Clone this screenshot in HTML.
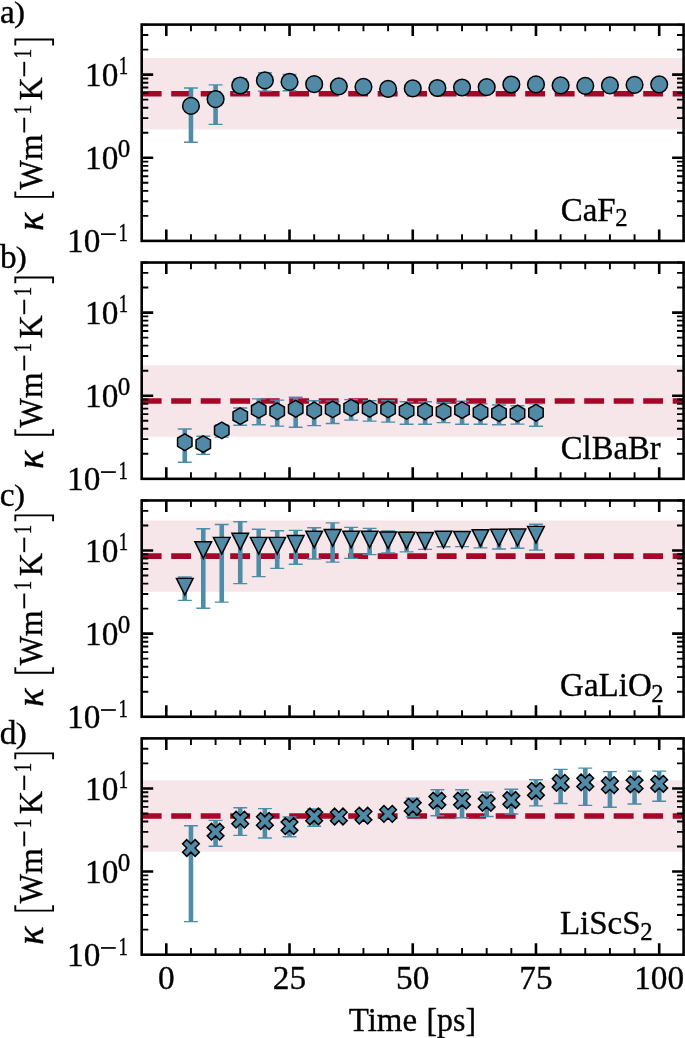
<!DOCTYPE html>
<html lang="en">
<head>
<meta charset="utf-8">
<title>Thermal conductivity convergence</title>
<style>
html,body{margin:0;padding:0;background:#fff;}
body{width:685px;height:1038px;overflow:hidden;font-family:"Liberation Serif",serif;}
svg{display:block;will-change:transform;}
text{stroke:#000;stroke-width:0.35px;}
</style>
</head>
<body>
<svg width="685" height="1038" viewBox="0 0 685 1038" font-family="'Liberation Serif', serif" font-size="33.33" fill="#000">
<g><rect x="141.7" y="58" width="541.9" height="71.4" fill="#f6e6ea"/>
<line x1="141.7" y1="93.7" x2="683.6" y2="93.7" stroke="#a60628" stroke-width="5.56" stroke-dasharray="19.9 9.6"/>
<g stroke="#4e8da8" fill="none"><path d="M190.95 88V142.2" stroke-width="4.6"/><path d="M184 88h13.9M184 142.2h13.9" stroke-width="1.39"/><path d="M215.59 84.9V124.4" stroke-width="4.6"/><path d="M208.64 84.9h13.9M208.64 124.4h13.9" stroke-width="1.39"/><path d="M240.24 79V93.3" stroke-width="4.6"/><path d="M233.29 79h13.9M233.29 93.3h13.9" stroke-width="1.39"/><path d="M264.88 72.7V91.1" stroke-width="4.6"/><path d="M257.93 72.7h13.9M257.93 91.1h13.9" stroke-width="1.39"/><path d="M289.53 74.5V90.7" stroke-width="4.6"/><path d="M282.58 74.5h13.9M282.58 90.7h13.9" stroke-width="1.39"/></g>
<circle cx="190.95" cy="105.9" r="8.34" fill="#508aa6" stroke="#000" stroke-width="1.49"/>
<circle cx="215.59" cy="99.2" r="8.34" fill="#508aa6" stroke="#000" stroke-width="1.49"/>
<circle cx="240.24" cy="85.5" r="8.34" fill="#508aa6" stroke="#000" stroke-width="1.49"/>
<circle cx="264.88" cy="80.4" r="8.34" fill="#508aa6" stroke="#000" stroke-width="1.49"/>
<circle cx="289.53" cy="81.9" r="8.34" fill="#508aa6" stroke="#000" stroke-width="1.49"/>
<circle cx="314.17" cy="84.2" r="8.34" fill="#508aa6" stroke="#000" stroke-width="1.49"/>
<circle cx="338.82" cy="86.3" r="8.34" fill="#508aa6" stroke="#000" stroke-width="1.49"/>
<circle cx="363.46" cy="86.8" r="8.34" fill="#508aa6" stroke="#000" stroke-width="1.49"/>
<circle cx="388.11" cy="88.9" r="8.34" fill="#508aa6" stroke="#000" stroke-width="1.49"/>
<circle cx="412.75" cy="88.4" r="8.34" fill="#508aa6" stroke="#000" stroke-width="1.49"/>
<circle cx="437.4" cy="88" r="8.34" fill="#508aa6" stroke="#000" stroke-width="1.49"/>
<circle cx="462.04" cy="87.5" r="8.34" fill="#508aa6" stroke="#000" stroke-width="1.49"/>
<circle cx="486.69" cy="87.2" r="8.34" fill="#508aa6" stroke="#000" stroke-width="1.49"/>
<circle cx="511.33" cy="84.5" r="8.34" fill="#508aa6" stroke="#000" stroke-width="1.49"/>
<circle cx="535.98" cy="84.4" r="8.34" fill="#508aa6" stroke="#000" stroke-width="1.49"/>
<circle cx="560.62" cy="85.4" r="8.34" fill="#508aa6" stroke="#000" stroke-width="1.49"/>
<circle cx="585.27" cy="85.8" r="8.34" fill="#508aa6" stroke="#000" stroke-width="1.49"/>
<circle cx="609.91" cy="85.4" r="8.34" fill="#508aa6" stroke="#000" stroke-width="1.49"/>
<circle cx="634.56" cy="84.8" r="8.34" fill="#508aa6" stroke="#000" stroke-width="1.49"/>
<circle cx="659.2" cy="84.3" r="8.34" fill="#508aa6" stroke="#000" stroke-width="1.49"/>
<path d="M190.95 24.6v6.6M190.95 240.9v-6.6M215.59 24.6v6.6M215.59 240.9v-6.6M240.24 24.6v6.6M240.24 240.9v-6.6M264.88 24.6v6.6M264.88 240.9v-6.6M314.17 24.6v6.6M314.17 240.9v-6.6M338.82 24.6v6.6M338.82 240.9v-6.6M363.46 24.6v6.6M363.46 240.9v-6.6M388.11 24.6v6.6M388.11 240.9v-6.6M437.4 24.6v6.6M437.4 240.9v-6.6M462.04 24.6v6.6M462.04 240.9v-6.6M486.69 24.6v6.6M486.69 240.9v-6.6M511.33 24.6v6.6M511.33 240.9v-6.6M560.62 24.6v6.6M560.62 240.9v-6.6M585.27 24.6v6.6M585.27 240.9v-6.6M609.91 24.6v6.6M609.91 240.9v-6.6M634.56 24.6v6.6M634.56 240.9v-6.6M141.7 215.88h6.6M683.6 215.88h-6.6M141.7 201.24h6.6M683.6 201.24h-6.6M141.7 190.85h6.6M683.6 190.85h-6.6M141.7 182.8h6.6M683.6 182.8h-6.6M141.7 176.22h6.6M683.6 176.22h-6.6M141.7 170.65h6.6M683.6 170.65h-6.6M141.7 165.83h6.6M683.6 165.83h-6.6M141.7 161.58h6.6M683.6 161.58h-6.6M141.7 132.75h6.6M683.6 132.75h-6.6M141.7 118.11h6.6M683.6 118.11h-6.6M141.7 107.73h6.6M683.6 107.73h-6.6M141.7 99.67h6.6M683.6 99.67h-6.6M141.7 93.09h6.6M683.6 93.09h-6.6M141.7 87.52h6.6M683.6 87.52h-6.6M141.7 82.7h6.6M683.6 82.7h-6.6M141.7 78.45h6.6M683.6 78.45h-6.6M141.7 49.62h6.6M683.6 49.62h-6.6M141.7 34.99h6.6M683.6 34.99h-6.6M141.7 24.6h6.6M683.6 24.6h-6.6" stroke="#000" stroke-width="1.9" fill="none"/>
<path d="M166.3 24.6v11.5M166.3 240.9v-11.5M289.53 24.6v11.5M289.53 240.9v-11.5M412.75 24.6v11.5M412.75 240.9v-11.5M535.98 24.6v11.5M535.98 240.9v-11.5M659.2 24.6v11.5M659.2 240.9v-11.5M141.7 157.77h11.5M683.6 157.77h-11.5M141.7 74.65h11.5M683.6 74.65h-11.5" stroke="#000" stroke-width="2.6" fill="none"/>
<rect x="141.7" y="24.6" width="541.9" height="216.3" fill="none" stroke="#000" stroke-width="2.6"/>
<text x="67.0" y="252.1">10</text>
<rect x="101" y="233.3" width="14.8" height="1.7"/>
<g transform="translate(118.6 241.1) scale(0.75 1)"><text x="0" y="0" font-size="25">1</text></g>
<text x="85" y="169.47">10</text>
<text x="117.7" y="157.07" font-size="25">0</text>
<text x="85" y="86.35">10</text>
<g transform="translate(118.8 73.95) scale(0.75 1)"><text x="0" y="0" font-size="25">1</text></g>
<g transform="translate(560.7 220.9) scale(0.99 1)"><text x="0" y="0">CaF<tspan font-size="25" dx="-0.4" dy="4.7">2</tspan></text></g>
<text x="0" y="22.6">a</text>
<g transform="translate(14 21.7) scale(1 0.889)"><text x="0" y="0">)</text></g>
<g transform="translate(42.4 240.9) rotate(-90)"><g transform="translate(9.8 0.4) scale(1.16 1.12)"><text x="0" y="0" font-style="italic" stroke="#000" stroke-width="0.5">κ</text></g><path d="M49.5 -27.1H44.05V10.7H49.5" fill="none" stroke="#000" stroke-width="1.9"/><g transform="translate(51.4 0) scale(0.935 1)"><text x="0" y="0" stroke-width="0.7">W</text></g><text x="80.6" y="0" stroke-width="0.55">m</text><rect x="108.4" y="-19.1" width="14.8" height="1.9"/><g transform="translate(126.4 -11.7) scale(0.75 1)"><text x="0" y="0" font-size="25">1</text></g><g transform="translate(140.4 0) scale(0.965 1)"><text x="0" y="0" stroke-width="0.6">K</text></g><rect x="164.6" y="-19.1" width="14.5" height="1.9"/><g transform="translate(182.5 -11.7) scale(0.75 1)"><text x="0" y="0" font-size="25">1</text></g><path d="M195.5 -27.1H201.35V10.7H195.5" fill="none" stroke="#000" stroke-width="1.9"/></g></g>
<g><rect x="141.7" y="365.3" width="541.9" height="71.4" fill="#f6e6ea"/>
<line x1="141.7" y1="401" x2="683.6" y2="401" stroke="#a60628" stroke-width="5.56" stroke-dasharray="19.9 9.6"/>
<g stroke="#4e8da8" fill="none"><path d="M184.78 429V462.3" stroke-width="4.6"/><path d="M177.83 429h13.9M177.83 462.3h13.9" stroke-width="1.39"/><path d="M203.27 436.2V454.4" stroke-width="4.6"/><path d="M196.32 436.2h13.9M196.32 454.4h13.9" stroke-width="1.39"/><path d="M221.75 425V437.1" stroke-width="4.6"/><path d="M214.8 425h13.9M214.8 437.1h13.9" stroke-width="1.39"/><path d="M240.24 408V425.2" stroke-width="4.6"/><path d="M233.29 408h13.9M233.29 425.2h13.9" stroke-width="1.39"/><path d="M258.72 398.9V424.7" stroke-width="4.6"/><path d="M251.77 398.9h13.9M251.77 424.7h13.9" stroke-width="1.39"/><path d="M277.2 400.1V426.1" stroke-width="4.6"/><path d="M270.25 400.1h13.9M270.25 426.1h13.9" stroke-width="1.39"/><path d="M295.69 397.2V427.2" stroke-width="4.6"/><path d="M288.74 397.2h13.9M288.74 427.2h13.9" stroke-width="1.39"/><path d="M314.17 400.7V425.6" stroke-width="4.6"/><path d="M307.22 400.7h13.9M307.22 425.6h13.9" stroke-width="1.39"/><path d="M332.65 401.1V423.5" stroke-width="4.6"/><path d="M325.7 401.1h13.9M325.7 423.5h13.9" stroke-width="1.39"/><path d="M351.14 399.6V420.1" stroke-width="4.6"/><path d="M344.19 399.6h13.9M344.19 420.1h13.9" stroke-width="1.39"/><path d="M369.62 400.7V421.1" stroke-width="4.6"/><path d="M362.67 400.7h13.9M362.67 421.1h13.9" stroke-width="1.39"/><path d="M388.11 400.7V422.1" stroke-width="4.6"/><path d="M381.16 400.7h13.9M381.16 422.1h13.9" stroke-width="1.39"/><path d="M406.59 401.7V424.2" stroke-width="4.6"/><path d="M399.64 401.7h13.9M399.64 424.2h13.9" stroke-width="1.39"/><path d="M425.07 401.7V424.3" stroke-width="4.6"/><path d="M418.12 401.7h13.9M418.12 424.3h13.9" stroke-width="1.39"/><path d="M443.56 402.8V422.6" stroke-width="4.6"/><path d="M436.61 402.8h13.9M436.61 422.6h13.9" stroke-width="1.39"/><path d="M462.04 401.3V424.3" stroke-width="4.6"/><path d="M455.09 401.3h13.9M455.09 424.3h13.9" stroke-width="1.39"/><path d="M480.52 403.9V424.3" stroke-width="4.6"/><path d="M473.57 403.9h13.9M473.57 424.3h13.9" stroke-width="1.39"/><path d="M499.01 405V424.7" stroke-width="4.6"/><path d="M492.06 405h13.9M492.06 424.7h13.9" stroke-width="1.39"/><path d="M517.49 405.7V424.1" stroke-width="4.6"/><path d="M510.54 405.7h13.9M510.54 424.1h13.9" stroke-width="1.39"/><path d="M535.98 403.9V426.3" stroke-width="4.6"/><path d="M529.02 403.9h13.9M529.02 426.3h13.9" stroke-width="1.39"/></g>
<polygon points="184.78,433.87 177.57,438.03 177.57,446.37 184.78,450.53 192,446.37 192,438.03" fill="#508aa6" stroke="#000" stroke-width="1.49" stroke-linejoin="miter"/>
<polygon points="203.27,435.77 196.05,439.93 196.05,448.27 203.27,452.44 210.49,448.27 210.49,439.93" fill="#508aa6" stroke="#000" stroke-width="1.49" stroke-linejoin="miter"/>
<polygon points="221.75,422.06 214.53,426.23 214.53,434.57 221.75,438.73 228.97,434.57 228.97,426.23" fill="#508aa6" stroke="#000" stroke-width="1.49" stroke-linejoin="miter"/>
<polygon points="240.24,407.77 233.02,411.93 233.02,420.27 240.24,424.44 247.45,420.27 247.45,411.93" fill="#508aa6" stroke="#000" stroke-width="1.49" stroke-linejoin="miter"/>
<polygon points="258.72,401.56 251.5,405.73 251.5,414.07 258.72,418.23 265.94,414.07 265.94,405.73" fill="#508aa6" stroke="#000" stroke-width="1.49" stroke-linejoin="miter"/>
<polygon points="277.2,402.87 269.98,407.03 269.98,415.37 277.2,419.53 284.42,415.37 284.42,407.03" fill="#508aa6" stroke="#000" stroke-width="1.49" stroke-linejoin="miter"/>
<polygon points="295.69,400.47 288.47,404.63 288.47,412.97 295.69,417.13 302.9,412.97 302.9,404.63" fill="#508aa6" stroke="#000" stroke-width="1.49" stroke-linejoin="miter"/>
<polygon points="314.17,402.17 306.95,406.33 306.95,414.67 314.17,418.83 321.39,414.67 321.39,406.33" fill="#508aa6" stroke="#000" stroke-width="1.49" stroke-linejoin="miter"/>
<polygon points="332.65,401.06 325.44,405.23 325.44,413.57 332.65,417.73 339.87,413.57 339.87,405.23" fill="#508aa6" stroke="#000" stroke-width="1.49" stroke-linejoin="miter"/>
<polygon points="351.14,399.47 343.92,403.63 343.92,411.97 351.14,416.13 358.36,411.97 358.36,403.63" fill="#508aa6" stroke="#000" stroke-width="1.49" stroke-linejoin="miter"/>
<polygon points="369.62,400.47 362.4,404.63 362.4,412.97 369.62,417.13 376.84,412.97 376.84,404.63" fill="#508aa6" stroke="#000" stroke-width="1.49" stroke-linejoin="miter"/>
<polygon points="388.11,401.06 380.89,405.23 380.89,413.57 388.11,417.73 395.32,413.57 395.32,405.23" fill="#508aa6" stroke="#000" stroke-width="1.49" stroke-linejoin="miter"/>
<polygon points="406.59,402.56 399.37,406.73 399.37,415.07 406.59,419.23 413.81,415.07 413.81,406.73" fill="#508aa6" stroke="#000" stroke-width="1.49" stroke-linejoin="miter"/>
<polygon points="425.07,402.87 417.85,407.03 417.85,415.37 425.07,419.53 432.29,415.37 432.29,407.03" fill="#508aa6" stroke="#000" stroke-width="1.49" stroke-linejoin="miter"/>
<polygon points="443.56,403.27 436.34,407.43 436.34,415.77 443.56,419.94 450.77,415.77 450.77,407.43" fill="#508aa6" stroke="#000" stroke-width="1.49" stroke-linejoin="miter"/>
<polygon points="462.04,401.77 454.82,405.93 454.82,414.27 462.04,418.44 469.26,414.27 469.26,405.93" fill="#508aa6" stroke="#000" stroke-width="1.49" stroke-linejoin="miter"/>
<polygon points="480.52,403.97 473.31,408.13 473.31,416.47 480.52,420.63 487.74,416.47 487.74,408.13" fill="#508aa6" stroke="#000" stroke-width="1.49" stroke-linejoin="miter"/>
<polygon points="499.01,404.77 491.79,408.93 491.79,417.27 499.01,421.44 506.23,417.27 506.23,408.93" fill="#508aa6" stroke="#000" stroke-width="1.49" stroke-linejoin="miter"/>
<polygon points="517.49,405.06 510.27,409.23 510.27,417.57 517.49,421.73 524.71,417.57 524.71,409.23" fill="#508aa6" stroke="#000" stroke-width="1.49" stroke-linejoin="miter"/>
<polygon points="535.98,404.37 528.76,408.53 528.76,416.87 535.98,421.03 543.19,416.87 543.19,408.53" fill="#508aa6" stroke="#000" stroke-width="1.49" stroke-linejoin="miter"/>
<path d="M190.95 262.53v6.6M190.95 478.83v-6.6M215.59 262.53v6.6M215.59 478.83v-6.6M240.24 262.53v6.6M240.24 478.83v-6.6M264.88 262.53v6.6M264.88 478.83v-6.6M314.17 262.53v6.6M314.17 478.83v-6.6M338.82 262.53v6.6M338.82 478.83v-6.6M363.46 262.53v6.6M363.46 478.83v-6.6M388.11 262.53v6.6M388.11 478.83v-6.6M437.4 262.53v6.6M437.4 478.83v-6.6M462.04 262.53v6.6M462.04 478.83v-6.6M486.69 262.53v6.6M486.69 478.83v-6.6M511.33 262.53v6.6M511.33 478.83v-6.6M560.62 262.53v6.6M560.62 478.83v-6.6M585.27 262.53v6.6M585.27 478.83v-6.6M609.91 262.53v6.6M609.91 478.83v-6.6M634.56 262.53v6.6M634.56 478.83v-6.6M141.7 453.81h6.6M683.6 453.81h-6.6M141.7 439.17h6.6M683.6 439.17h-6.6M141.7 428.78h6.6M683.6 428.78h-6.6M141.7 420.73h6.6M683.6 420.73h-6.6M141.7 414.15h6.6M683.6 414.15h-6.6M141.7 408.58h6.6M683.6 408.58h-6.6M141.7 403.76h6.6M683.6 403.76h-6.6M141.7 399.51h6.6M683.6 399.51h-6.6M141.7 370.68h6.6M683.6 370.68h-6.6M141.7 356.04h6.6M683.6 356.04h-6.6M141.7 345.66h6.6M683.6 345.66h-6.6M141.7 337.6h6.6M683.6 337.6h-6.6M141.7 331.02h6.6M683.6 331.02h-6.6M141.7 325.45h6.6M683.6 325.45h-6.6M141.7 320.63h6.6M683.6 320.63h-6.6M141.7 316.38h6.6M683.6 316.38h-6.6M141.7 287.55h6.6M683.6 287.55h-6.6M141.7 272.92h6.6M683.6 272.92h-6.6M141.7 262.53h6.6M683.6 262.53h-6.6" stroke="#000" stroke-width="1.9" fill="none"/>
<path d="M166.3 262.53v11.5M166.3 478.83v-11.5M289.53 262.53v11.5M289.53 478.83v-11.5M412.75 262.53v11.5M412.75 478.83v-11.5M535.98 262.53v11.5M535.98 478.83v-11.5M659.2 262.53v11.5M659.2 478.83v-11.5M141.7 395.7h11.5M683.6 395.7h-11.5M141.7 312.58h11.5M683.6 312.58h-11.5" stroke="#000" stroke-width="2.6" fill="none"/>
<rect x="141.7" y="262.53" width="541.9" height="216.3" fill="none" stroke="#000" stroke-width="2.6"/>
<text x="67.0" y="490.03">10</text>
<rect x="101" y="471.23" width="14.8" height="1.7"/>
<g transform="translate(118.6 479.03) scale(0.75 1)"><text x="0" y="0" font-size="25">1</text></g>
<text x="85" y="407.4">10</text>
<text x="117.7" y="395" font-size="25">0</text>
<text x="85" y="324.28">10</text>
<g transform="translate(118.8 311.88) scale(0.75 1)"><text x="0" y="0" font-size="25">1</text></g>
<g transform="translate(560.8 458.53) scale(0.98 1)"><text x="0" y="0">ClBaBr<tspan font-size="25" dx="-0.4" dy="5"></tspan></text></g>
<text x="-0.1" y="268.1">b</text>
<g transform="translate(15.7 267.2) scale(1 0.889)"><text x="0" y="0">)</text></g>
<g transform="translate(42.4 478.83) rotate(-90)"><g transform="translate(9.8 0.4) scale(1.16 1.12)"><text x="0" y="0" font-style="italic" stroke="#000" stroke-width="0.5">κ</text></g><path d="M49.5 -27.1H44.05V10.7H49.5" fill="none" stroke="#000" stroke-width="1.9"/><g transform="translate(51.4 0) scale(0.935 1)"><text x="0" y="0" stroke-width="0.7">W</text></g><text x="80.6" y="0" stroke-width="0.55">m</text><rect x="108.4" y="-19.1" width="14.8" height="1.9"/><g transform="translate(126.4 -11.7) scale(0.75 1)"><text x="0" y="0" font-size="25">1</text></g><g transform="translate(140.4 0) scale(0.965 1)"><text x="0" y="0" stroke-width="0.6">K</text></g><rect x="164.6" y="-19.1" width="14.5" height="1.9"/><g transform="translate(182.5 -11.7) scale(0.75 1)"><text x="0" y="0" font-size="25">1</text></g><path d="M195.5 -27.1H201.35V10.7H195.5" fill="none" stroke="#000" stroke-width="1.9"/></g></g>
<g><rect x="141.7" y="520.4" width="541.9" height="71.4" fill="#f6e6ea"/>
<line x1="141.7" y1="556.1" x2="683.6" y2="556.1" stroke="#a60628" stroke-width="5.56" stroke-dasharray="19.9 9.6"/>
<g stroke="#4e8da8" fill="none"><path d="M184.78 577V600.4" stroke-width="4.6"/><path d="M177.83 577h13.9M177.83 600.4h13.9" stroke-width="1.39"/><path d="M203.27 528.7V608.2" stroke-width="4.6"/><path d="M196.32 528.7h13.9M196.32 608.2h13.9" stroke-width="1.39"/><path d="M221.75 524.5V602.1" stroke-width="4.6"/><path d="M214.8 524.5h13.9M214.8 602.1h13.9" stroke-width="1.39"/><path d="M240.24 521.7V583.6" stroke-width="4.6"/><path d="M233.29 521.7h13.9M233.29 583.6h13.9" stroke-width="1.39"/><path d="M258.72 529.2V576.6" stroke-width="4.6"/><path d="M251.77 529.2h13.9M251.77 576.6h13.9" stroke-width="1.39"/><path d="M277.2 530.8V568.4" stroke-width="4.6"/><path d="M270.25 530.8h13.9M270.25 568.4h13.9" stroke-width="1.39"/><path d="M295.69 530.4V564.2" stroke-width="4.6"/><path d="M288.74 530.4h13.9M288.74 564.2h13.9" stroke-width="1.39"/><path d="M314.17 527.8V559" stroke-width="4.6"/><path d="M307.22 527.8h13.9M307.22 559h13.9" stroke-width="1.39"/><path d="M332.65 522.9V562.1" stroke-width="4.6"/><path d="M325.7 522.9h13.9M325.7 562.1h13.9" stroke-width="1.39"/><path d="M351.14 527.4V558.4" stroke-width="4.6"/><path d="M344.19 527.4h13.9M344.19 558.4h13.9" stroke-width="1.39"/><path d="M369.62 528.4V554.6" stroke-width="4.6"/><path d="M362.67 528.4h13.9M362.67 554.6h13.9" stroke-width="1.39"/><path d="M388.11 531V552.9" stroke-width="4.6"/><path d="M381.16 531h13.9M381.16 552.9h13.9" stroke-width="1.39"/><path d="M406.59 532V551.9" stroke-width="4.6"/><path d="M399.64 532h13.9M399.64 551.9h13.9" stroke-width="1.39"/><path d="M425.07 533V549.4" stroke-width="4.6"/><path d="M418.12 533h13.9M418.12 549.4h13.9" stroke-width="1.39"/><path d="M443.56 533V546.8" stroke-width="4.6"/><path d="M436.61 533h13.9M436.61 546.8h13.9" stroke-width="1.39"/><path d="M462.04 533V546.6" stroke-width="4.6"/><path d="M455.09 533h13.9M455.09 546.6h13.9" stroke-width="1.39"/><path d="M480.52 531V547.9" stroke-width="4.6"/><path d="M473.57 531h13.9M473.57 547.9h13.9" stroke-width="1.39"/><path d="M499.01 530V549" stroke-width="4.6"/><path d="M492.06 530h13.9M492.06 549h13.9" stroke-width="1.39"/><path d="M517.49 530V548.3" stroke-width="4.6"/><path d="M510.54 530h13.9M510.54 548.3h13.9" stroke-width="1.39"/><path d="M535.98 524.2V550.1" stroke-width="4.6"/><path d="M529.02 524.2h13.9M529.02 550.1h13.9" stroke-width="1.39"/></g>
<polygon points="184.78,595.04 176.45,578.37 193.12,578.37" fill="#508aa6" stroke="#000" stroke-width="1.49" stroke-linejoin="miter"/>
<polygon points="203.27,558.34 194.93,541.66 211.6,541.66" fill="#508aa6" stroke="#000" stroke-width="1.49" stroke-linejoin="miter"/>
<polygon points="221.75,554.04 213.42,537.37 230.09,537.37" fill="#508aa6" stroke="#000" stroke-width="1.49" stroke-linejoin="miter"/>
<polygon points="240.24,549.84 231.9,533.16 248.57,533.16" fill="#508aa6" stroke="#000" stroke-width="1.49" stroke-linejoin="miter"/>
<polygon points="258.72,554.04 250.38,537.37 267.05,537.37" fill="#508aa6" stroke="#000" stroke-width="1.49" stroke-linejoin="miter"/>
<polygon points="277.2,554.04 268.87,537.37 285.54,537.37" fill="#508aa6" stroke="#000" stroke-width="1.49" stroke-linejoin="miter"/>
<polygon points="295.69,552.24 287.35,535.56 304.02,535.56" fill="#508aa6" stroke="#000" stroke-width="1.49" stroke-linejoin="miter"/>
<polygon points="314.17,547.84 305.84,531.16 322.5,531.16" fill="#508aa6" stroke="#000" stroke-width="1.49" stroke-linejoin="miter"/>
<polygon points="332.65,546.24 324.32,529.56 340.99,529.56" fill="#508aa6" stroke="#000" stroke-width="1.49" stroke-linejoin="miter"/>
<polygon points="351.14,547.84 342.8,531.16 359.47,531.16" fill="#508aa6" stroke="#000" stroke-width="1.49" stroke-linejoin="miter"/>
<polygon points="369.62,547.84 361.29,531.16 377.96,531.16" fill="#508aa6" stroke="#000" stroke-width="1.49" stroke-linejoin="miter"/>
<polygon points="388.11,548.63 379.77,531.96 396.44,531.96" fill="#508aa6" stroke="#000" stroke-width="1.49" stroke-linejoin="miter"/>
<polygon points="406.59,548.84 398.25,532.16 414.92,532.16" fill="#508aa6" stroke="#000" stroke-width="1.49" stroke-linejoin="miter"/>
<polygon points="425.07,549.24 416.74,532.56 433.41,532.56" fill="#508aa6" stroke="#000" stroke-width="1.49" stroke-linejoin="miter"/>
<polygon points="443.56,547.94 435.22,531.26 451.89,531.26" fill="#508aa6" stroke="#000" stroke-width="1.49" stroke-linejoin="miter"/>
<polygon points="462.04,548.13 453.71,531.46 470.38,531.46" fill="#508aa6" stroke="#000" stroke-width="1.49" stroke-linejoin="miter"/>
<polygon points="480.52,546.34 472.19,529.66 488.86,529.66" fill="#508aa6" stroke="#000" stroke-width="1.49" stroke-linejoin="miter"/>
<polygon points="499.01,545.94 490.67,529.26 507.34,529.26" fill="#508aa6" stroke="#000" stroke-width="1.49" stroke-linejoin="miter"/>
<polygon points="517.49,545.74 509.16,529.06 525.83,529.06" fill="#508aa6" stroke="#000" stroke-width="1.49" stroke-linejoin="miter"/>
<polygon points="535.98,543.04 527.64,526.37 544.31,526.37" fill="#508aa6" stroke="#000" stroke-width="1.49" stroke-linejoin="miter"/>
<path d="M190.95 500.46v6.6M190.95 716.76v-6.6M215.59 500.46v6.6M215.59 716.76v-6.6M240.24 500.46v6.6M240.24 716.76v-6.6M264.88 500.46v6.6M264.88 716.76v-6.6M314.17 500.46v6.6M314.17 716.76v-6.6M338.82 500.46v6.6M338.82 716.76v-6.6M363.46 500.46v6.6M363.46 716.76v-6.6M388.11 500.46v6.6M388.11 716.76v-6.6M437.4 500.46v6.6M437.4 716.76v-6.6M462.04 500.46v6.6M462.04 716.76v-6.6M486.69 500.46v6.6M486.69 716.76v-6.6M511.33 500.46v6.6M511.33 716.76v-6.6M560.62 500.46v6.6M560.62 716.76v-6.6M585.27 500.46v6.6M585.27 716.76v-6.6M609.91 500.46v6.6M609.91 716.76v-6.6M634.56 500.46v6.6M634.56 716.76v-6.6M141.7 691.74h6.6M683.6 691.74h-6.6M141.7 677.1h6.6M683.6 677.1h-6.6M141.7 666.71h6.6M683.6 666.71h-6.6M141.7 658.66h6.6M683.6 658.66h-6.6M141.7 652.08h6.6M683.6 652.08h-6.6M141.7 646.51h6.6M683.6 646.51h-6.6M141.7 641.69h6.6M683.6 641.69h-6.6M141.7 637.44h6.6M683.6 637.44h-6.6M141.7 608.61h6.6M683.6 608.61h-6.6M141.7 593.97h6.6M683.6 593.97h-6.6M141.7 583.59h6.6M683.6 583.59h-6.6M141.7 575.53h6.6M683.6 575.53h-6.6M141.7 568.95h6.6M683.6 568.95h-6.6M141.7 563.38h6.6M683.6 563.38h-6.6M141.7 558.56h6.6M683.6 558.56h-6.6M141.7 554.31h6.6M683.6 554.31h-6.6M141.7 525.48h6.6M683.6 525.48h-6.6M141.7 510.85h6.6M683.6 510.85h-6.6M141.7 500.46h6.6M683.6 500.46h-6.6" stroke="#000" stroke-width="1.9" fill="none"/>
<path d="M166.3 500.46v11.5M166.3 716.76v-11.5M289.53 500.46v11.5M289.53 716.76v-11.5M412.75 500.46v11.5M412.75 716.76v-11.5M535.98 500.46v11.5M535.98 716.76v-11.5M659.2 500.46v11.5M659.2 716.76v-11.5M141.7 633.63h11.5M683.6 633.63h-11.5M141.7 550.51h11.5M683.6 550.51h-11.5" stroke="#000" stroke-width="2.6" fill="none"/>
<rect x="141.7" y="500.46" width="541.9" height="216.3" fill="none" stroke="#000" stroke-width="2.6"/>
<text x="67.0" y="727.96">10</text>
<rect x="101" y="709.16" width="14.8" height="1.7"/>
<g transform="translate(118.6 716.96) scale(0.75 1)"><text x="0" y="0" font-size="25">1</text></g>
<text x="85" y="645.33">10</text>
<text x="117.7" y="632.93" font-size="25">0</text>
<text x="85" y="562.21">10</text>
<g transform="translate(118.8 549.81) scale(0.75 1)"><text x="0" y="0" font-size="25">1</text></g>
<g transform="translate(560.1 696.46) scale(0.99 1)"><text x="0" y="0">GaLiO<tspan font-size="25" dx="-0.4" dy="5.9">2</tspan></text></g>
<text x="-0.2" y="506.1">c</text>
<g transform="translate(14 505.2) scale(1 0.889)"><text x="0" y="0">)</text></g>
<g transform="translate(42.4 716.76) rotate(-90)"><g transform="translate(9.8 0.4) scale(1.16 1.12)"><text x="0" y="0" font-style="italic" stroke="#000" stroke-width="0.5">κ</text></g><path d="M49.5 -27.1H44.05V10.7H49.5" fill="none" stroke="#000" stroke-width="1.9"/><g transform="translate(51.4 0) scale(0.935 1)"><text x="0" y="0" stroke-width="0.7">W</text></g><text x="80.6" y="0" stroke-width="0.55">m</text><rect x="108.4" y="-19.1" width="14.8" height="1.9"/><g transform="translate(126.4 -11.7) scale(0.75 1)"><text x="0" y="0" font-size="25">1</text></g><g transform="translate(140.4 0) scale(0.965 1)"><text x="0" y="0" stroke-width="0.6">K</text></g><rect x="164.6" y="-19.1" width="14.5" height="1.9"/><g transform="translate(182.5 -11.7) scale(0.75 1)"><text x="0" y="0" font-size="25">1</text></g><path d="M195.5 -27.1H201.35V10.7H195.5" fill="none" stroke="#000" stroke-width="1.9"/></g></g>
<g><rect x="141.7" y="780.3" width="541.9" height="71.4" fill="#f6e6ea"/>
<line x1="141.7" y1="816" x2="683.6" y2="816" stroke="#a60628" stroke-width="5.56" stroke-dasharray="19.9 9.6"/>
<g stroke="#4e8da8" fill="none"><path d="M190.95 825.7V921.6" stroke-width="4.6"/><path d="M184 825.7h13.9M184 921.6h13.9" stroke-width="1.39"/><path d="M215.59 820.4V846.2" stroke-width="4.6"/><path d="M208.64 820.4h13.9M208.64 846.2h13.9" stroke-width="1.39"/><path d="M240.24 807.8V835.4" stroke-width="4.6"/><path d="M233.29 807.8h13.9M233.29 835.4h13.9" stroke-width="1.39"/><path d="M264.88 808.6V838" stroke-width="4.6"/><path d="M257.93 808.6h13.9M257.93 838h13.9" stroke-width="1.39"/><path d="M289.53 817V836.7" stroke-width="4.6"/><path d="M282.58 817h13.9M282.58 836.7h13.9" stroke-width="1.39"/><path d="M314.17 809V826.2" stroke-width="4.6"/><path d="M307.22 809h13.9M307.22 826.2h13.9" stroke-width="1.39"/><path d="M412.75 798.1V816.5" stroke-width="4.6"/><path d="M405.8 798.1h13.9M405.8 816.5h13.9" stroke-width="1.39"/><path d="M437.4 789.7V815.7" stroke-width="4.6"/><path d="M430.45 789.7h13.9M430.45 815.7h13.9" stroke-width="1.39"/><path d="M462.04 789.7V817.8" stroke-width="4.6"/><path d="M455.09 789.7h13.9M455.09 817.8h13.9" stroke-width="1.39"/><path d="M486.69 792.1V816.5" stroke-width="4.6"/><path d="M479.74 792.1h13.9M479.74 816.5h13.9" stroke-width="1.39"/><path d="M511.33 789.2V814" stroke-width="4.6"/><path d="M504.38 789.2h13.9M504.38 814h13.9" stroke-width="1.39"/><path d="M535.98 779.7V805.9" stroke-width="4.6"/><path d="M529.03 779.7h13.9M529.03 805.9h13.9" stroke-width="1.39"/><path d="M560.62 769.4V803.5" stroke-width="4.6"/><path d="M553.67 769.4h13.9M553.67 803.5h13.9" stroke-width="1.39"/><path d="M585.27 768.1V805.4" stroke-width="4.6"/><path d="M578.32 768.1h13.9M578.32 805.4h13.9" stroke-width="1.39"/><path d="M609.91 771.6V807.3" stroke-width="4.6"/><path d="M602.96 771.6h13.9M602.96 807.3h13.9" stroke-width="1.39"/><path d="M634.56 771.1V804" stroke-width="4.6"/><path d="M627.61 771.1h13.9M627.61 804h13.9" stroke-width="1.39"/><path d="M659.2 771.1V801.3" stroke-width="4.6"/><path d="M652.25 771.1h13.9M652.25 801.3h13.9" stroke-width="1.39"/></g>
<polygon points="186.78,839.66 190.95,843.83 195.11,839.66 199.28,843.83 195.11,848 199.28,852.17 195.11,856.34 190.95,852.17 186.78,856.34 182.61,852.17 186.78,848 182.61,843.83" fill="#508aa6" stroke="#000" stroke-width="1.49" stroke-linejoin="miter"/>
<polygon points="211.42,823.37 215.59,827.53 219.76,823.37 223.93,827.53 219.76,831.7 223.93,835.87 219.76,840.04 215.59,835.87 211.42,840.04 207.26,835.87 211.42,831.7 207.26,827.53" fill="#508aa6" stroke="#000" stroke-width="1.49" stroke-linejoin="miter"/>
<polygon points="236.07,811.26 240.24,815.43 244.4,811.26 248.57,815.43 244.4,819.6 248.57,823.77 244.4,827.94 240.24,823.77 236.07,827.94 231.9,823.77 236.07,819.6 231.9,815.43" fill="#508aa6" stroke="#000" stroke-width="1.49" stroke-linejoin="miter"/>
<polygon points="260.71,812.66 264.88,816.83 269.05,812.66 273.21,816.83 269.05,821 273.21,825.17 269.05,829.34 264.88,825.17 260.71,829.34 256.55,825.17 260.71,821 256.55,816.83" fill="#508aa6" stroke="#000" stroke-width="1.49" stroke-linejoin="miter"/>
<polygon points="285.36,817.87 289.53,822.03 293.69,817.87 297.86,822.03 293.69,826.2 297.86,830.37 293.69,834.54 289.53,830.37 285.36,834.54 281.19,830.37 285.36,826.2 281.19,822.03" fill="#508aa6" stroke="#000" stroke-width="1.49" stroke-linejoin="miter"/>
<polygon points="310,808.16 314.17,812.33 318.34,808.16 322.5,812.33 318.34,816.5 322.5,820.67 318.34,824.84 314.17,820.67 310,824.84 305.84,820.67 310,816.5 305.84,812.33" fill="#508aa6" stroke="#000" stroke-width="1.49" stroke-linejoin="miter"/>
<polygon points="334.65,808.16 338.82,812.33 342.98,808.16 347.15,812.33 342.98,816.5 347.15,820.67 342.98,824.84 338.82,820.67 334.65,824.84 330.48,820.67 334.65,816.5 330.48,812.33" fill="#508aa6" stroke="#000" stroke-width="1.49" stroke-linejoin="miter"/>
<polygon points="359.29,807.37 363.46,811.53 367.63,807.37 371.8,811.53 367.63,815.7 371.8,819.87 367.63,824.04 363.46,819.87 359.29,824.04 355.13,819.87 359.29,815.7 355.13,811.53" fill="#508aa6" stroke="#000" stroke-width="1.49" stroke-linejoin="miter"/>
<polygon points="383.94,805.56 388.11,809.73 392.27,805.56 396.44,809.73 392.27,813.9 396.44,818.07 392.27,822.24 388.11,818.07 383.94,822.24 379.77,818.07 383.94,813.9 379.77,809.73" fill="#508aa6" stroke="#000" stroke-width="1.49" stroke-linejoin="miter"/>
<polygon points="408.58,798.46 412.75,802.63 416.92,798.46 421.09,802.63 416.92,806.8 421.09,810.97 416.92,815.13 412.75,810.97 408.58,815.13 404.42,810.97 408.58,806.8 404.42,802.63" fill="#508aa6" stroke="#000" stroke-width="1.49" stroke-linejoin="miter"/>
<polygon points="433.23,792.37 437.4,796.53 441.56,792.37 445.73,796.53 441.56,800.7 445.73,804.87 441.56,809.04 437.4,804.87 433.23,809.04 429.06,804.87 433.23,800.7 429.06,796.53" fill="#508aa6" stroke="#000" stroke-width="1.49" stroke-linejoin="miter"/>
<polygon points="457.87,792.37 462.04,796.53 466.21,792.37 470.38,796.53 466.21,800.7 470.38,804.87 466.21,809.04 462.04,804.87 457.87,809.04 453.71,804.87 457.87,800.7 453.71,796.53" fill="#508aa6" stroke="#000" stroke-width="1.49" stroke-linejoin="miter"/>
<polygon points="482.52,794.46 486.69,798.63 490.85,794.46 495.02,798.63 490.85,802.8 495.02,806.97 490.85,811.13 486.69,806.97 482.52,811.13 478.35,806.97 482.52,802.8 478.35,798.63" fill="#508aa6" stroke="#000" stroke-width="1.49" stroke-linejoin="miter"/>
<polygon points="507.16,791.66 511.33,795.83 515.5,791.66 519.67,795.83 515.5,800 519.67,804.17 515.5,808.34 511.33,804.17 507.16,808.34 503,804.17 507.16,800 503,795.83" fill="#508aa6" stroke="#000" stroke-width="1.49" stroke-linejoin="miter"/>
<polygon points="531.81,782.66 535.98,786.83 540.14,782.66 544.31,786.83 540.14,791 544.31,795.17 540.14,799.34 535.98,795.17 531.81,799.34 527.64,795.17 531.81,791 527.64,786.83" fill="#508aa6" stroke="#000" stroke-width="1.49" stroke-linejoin="miter"/>
<polygon points="556.45,774.56 560.62,778.73 564.79,774.56 568.96,778.73 564.79,782.9 568.96,787.07 564.79,791.24 560.62,787.07 556.45,791.24 552.29,787.07 556.45,782.9 552.29,778.73" fill="#508aa6" stroke="#000" stroke-width="1.49" stroke-linejoin="miter"/>
<polygon points="581.1,774.06 585.27,778.23 589.43,774.06 593.6,778.23 589.43,782.4 593.6,786.57 589.43,790.74 585.27,786.57 581.1,790.74 576.93,786.57 581.1,782.4 576.93,778.23" fill="#508aa6" stroke="#000" stroke-width="1.49" stroke-linejoin="miter"/>
<polygon points="605.74,776.76 609.91,780.93 614.08,776.76 618.25,780.93 614.08,785.1 618.25,789.27 614.08,793.44 609.91,789.27 605.74,793.44 601.58,789.27 605.74,785.1 601.58,780.93" fill="#508aa6" stroke="#000" stroke-width="1.49" stroke-linejoin="miter"/>
<polygon points="630.39,775.96 634.56,780.13 638.72,775.96 642.89,780.13 638.72,784.3 642.89,788.47 638.72,792.63 634.56,788.47 630.39,792.63 626.22,788.47 630.39,784.3 626.22,780.13" fill="#508aa6" stroke="#000" stroke-width="1.49" stroke-linejoin="miter"/>
<polygon points="655.03,775.46 659.2,779.63 663.37,775.46 667.54,779.63 663.37,783.8 667.54,787.97 663.37,792.13 659.2,787.97 655.03,792.13 650.87,787.97 655.03,783.8 650.87,779.63" fill="#508aa6" stroke="#000" stroke-width="1.49" stroke-linejoin="miter"/>
<path d="M190.95 738.39v6.6M190.95 954.69v-6.6M215.59 738.39v6.6M215.59 954.69v-6.6M240.24 738.39v6.6M240.24 954.69v-6.6M264.88 738.39v6.6M264.88 954.69v-6.6M314.17 738.39v6.6M314.17 954.69v-6.6M338.82 738.39v6.6M338.82 954.69v-6.6M363.46 738.39v6.6M363.46 954.69v-6.6M388.11 738.39v6.6M388.11 954.69v-6.6M437.4 738.39v6.6M437.4 954.69v-6.6M462.04 738.39v6.6M462.04 954.69v-6.6M486.69 738.39v6.6M486.69 954.69v-6.6M511.33 738.39v6.6M511.33 954.69v-6.6M560.62 738.39v6.6M560.62 954.69v-6.6M585.27 738.39v6.6M585.27 954.69v-6.6M609.91 738.39v6.6M609.91 954.69v-6.6M634.56 738.39v6.6M634.56 954.69v-6.6M141.7 929.67h6.6M683.6 929.67h-6.6M141.7 915.03h6.6M683.6 915.03h-6.6M141.7 904.64h6.6M683.6 904.64h-6.6M141.7 896.59h6.6M683.6 896.59h-6.6M141.7 890.01h6.6M683.6 890.01h-6.6M141.7 884.44h6.6M683.6 884.44h-6.6M141.7 879.62h6.6M683.6 879.62h-6.6M141.7 875.37h6.6M683.6 875.37h-6.6M141.7 846.54h6.6M683.6 846.54h-6.6M141.7 831.9h6.6M683.6 831.9h-6.6M141.7 821.52h6.6M683.6 821.52h-6.6M141.7 813.46h6.6M683.6 813.46h-6.6M141.7 806.88h6.6M683.6 806.88h-6.6M141.7 801.31h6.6M683.6 801.31h-6.6M141.7 796.49h6.6M683.6 796.49h-6.6M141.7 792.24h6.6M683.6 792.24h-6.6M141.7 763.41h6.6M683.6 763.41h-6.6M141.7 748.78h6.6M683.6 748.78h-6.6M141.7 738.39h6.6M683.6 738.39h-6.6" stroke="#000" stroke-width="1.9" fill="none"/>
<path d="M166.3 738.39v11.5M166.3 954.69v-11.5M289.53 738.39v11.5M289.53 954.69v-11.5M412.75 738.39v11.5M412.75 954.69v-11.5M535.98 738.39v11.5M535.98 954.69v-11.5M659.2 738.39v11.5M659.2 954.69v-11.5M141.7 871.56h11.5M683.6 871.56h-11.5M141.7 788.44h11.5M683.6 788.44h-11.5" stroke="#000" stroke-width="2.6" fill="none"/>
<rect x="141.7" y="738.39" width="541.9" height="216.3" fill="none" stroke="#000" stroke-width="2.6"/>
<text x="67.0" y="965.89">10</text>
<rect x="101" y="947.09" width="14.8" height="1.7"/>
<g transform="translate(118.6 954.89) scale(0.75 1)"><text x="0" y="0" font-size="25">1</text></g>
<text x="85" y="883.26">10</text>
<text x="117.7" y="870.86" font-size="25">0</text>
<text x="85" y="800.14">10</text>
<g transform="translate(118.8 787.74) scale(0.75 1)"><text x="0" y="0" font-size="25">1</text></g>
<g transform="translate(559.9 934.39) scale(0.99 1)"><text x="0" y="0">LiScS<tspan font-size="25" dx="-0.4" dy="5.9">2</tspan></text></g>
<text x="-0.2" y="744">d</text>
<g transform="translate(15.7 743.1) scale(1 0.889)"><text x="0" y="0">)</text></g>
<g transform="translate(42.4 954.69) rotate(-90)"><g transform="translate(9.8 0.4) scale(1.16 1.12)"><text x="0" y="0" font-style="italic" stroke="#000" stroke-width="0.5">κ</text></g><path d="M49.5 -27.1H44.05V10.7H49.5" fill="none" stroke="#000" stroke-width="1.9"/><g transform="translate(51.4 0) scale(0.935 1)"><text x="0" y="0" stroke-width="0.7">W</text></g><text x="80.6" y="0" stroke-width="0.55">m</text><rect x="108.4" y="-19.1" width="14.8" height="1.9"/><g transform="translate(126.4 -11.7) scale(0.75 1)"><text x="0" y="0" font-size="25">1</text></g><g transform="translate(140.4 0) scale(0.965 1)"><text x="0" y="0" stroke-width="0.6">K</text></g><rect x="164.6" y="-19.1" width="14.5" height="1.9"/><g transform="translate(182.5 -11.7) scale(0.75 1)"><text x="0" y="0" font-size="25">1</text></g><path d="M195.5 -27.1H201.35V10.7H195.5" fill="none" stroke="#000" stroke-width="1.9"/></g></g>
<text x="166.3" y="988.8" text-anchor="middle">0</text>
<text x="289.53" y="988.8" text-anchor="middle">25</text>
<text x="412.75" y="988.8" text-anchor="middle">50</text>
<text x="535.98" y="988.8" text-anchor="middle">75</text>
<text x="659.2" y="988.8" text-anchor="middle">100</text>
<g transform="translate(348.7 1031.0) scale(0.988 1)"><text x="0" y="0">Time</text></g>
<g transform="translate(426.5 1031.0) scale(0.955 1)"><text x="0" y="0">[ps]</text></g>
</svg>
</body>
</html>
